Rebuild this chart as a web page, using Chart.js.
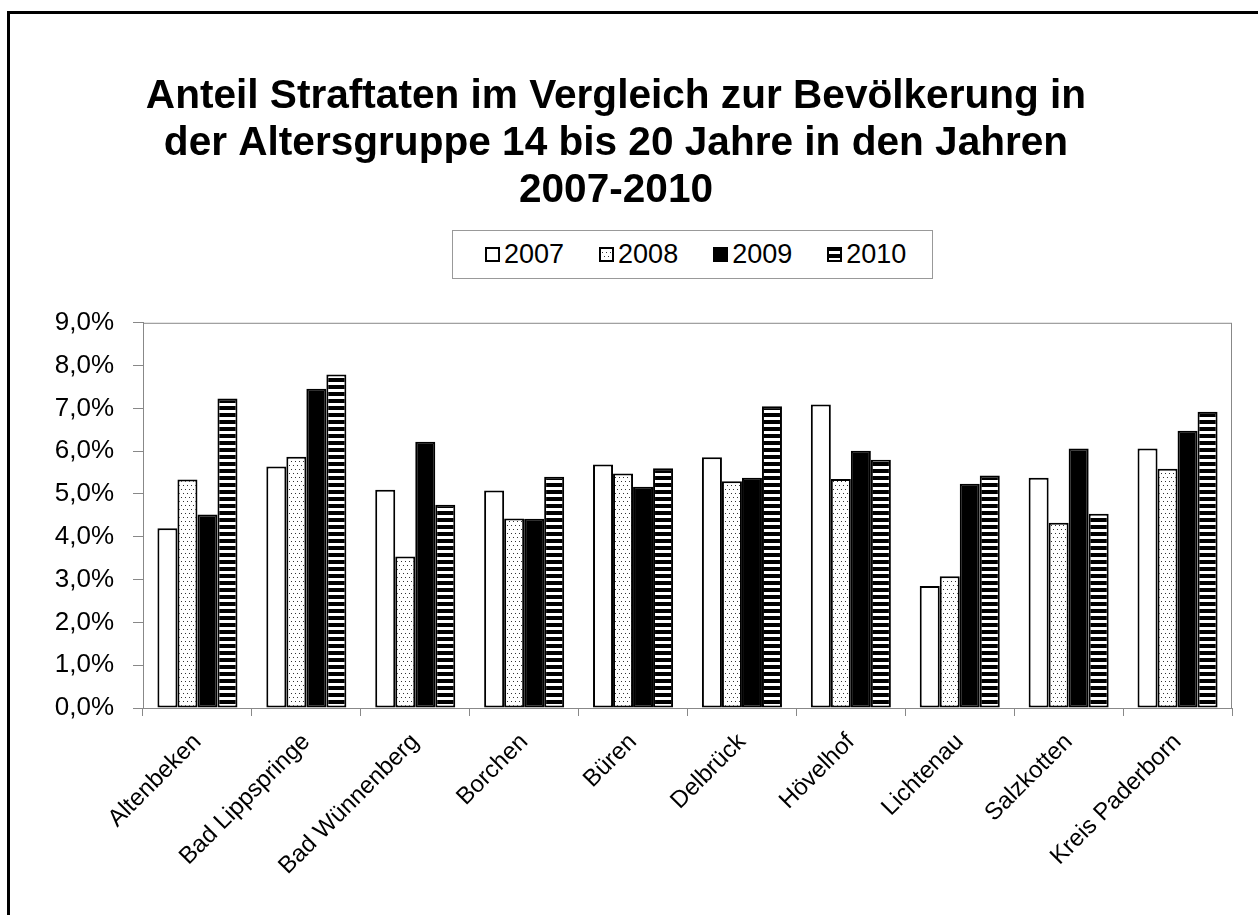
<!DOCTYPE html>
<html>
<head>
<meta charset="utf-8">
<script src="https://cdn.jsdelivr.net/npm/chart.js@4"></script>
<style>
  body { margin:0; background:#fff; width:1258px; height:915px; overflow:hidden; position:relative;
         font-family:"Liberation Sans", Arial, sans-serif; }
  #frame { position:absolute; left:7px; top:11px; width:1400px; height:1100px;
           border-left:3px solid #000; border-top:3px solid #000; }
  #wrap { position:absolute; left:0; top:0; width:1238px; height:915px; }
  #legend { position:absolute; left:452px; top:230px; width:481px; height:49px; box-sizing:border-box;
            border:1px solid #999; background:#fff; display:flex; align-items:center; padding-left:32px; }
  #legend .item { display:flex; align-items:center; margin-right:35px; font-size:27px; color:#000; }
  #legend canvas { margin-right:4px; }
</style>
</head>
<body>
<div id="frame"></div>
<div id="wrap"><canvas id="chart" width="1238" height="915"></canvas></div>
<div id="legend"></div>
<script>
const categories = ['Altenbeken', 'Bad Lippspringe', 'Bad Wünnenberg', 'Borchen', 'Büren',
                    'Delbrück', 'Hövelhof', 'Lichtenau', 'Salzkotten', 'Kreis Paderborn'];
const years = ['2007', '2008', '2009', '2010'];
const values2007 = [4.20, 5.64, 5.10, 5.08, 5.69, 5.86, 7.09, 2.85, 5.38, 6.06];
const values2008 = [5.34, 5.87, 3.54, 4.43, 5.48, 5.30, 5.35, 3.08, 4.33, 5.59];
const values2009 = [4.52, 7.46, 6.22, 4.42, 5.17, 5.38, 6.01, 5.24, 6.06, 6.48];
const values2010 = [7.23, 7.79, 4.75, 5.40, 5.60, 7.05, 5.80, 5.43, 4.54, 6.92];
const yMax = 9;

const FONT = '"Liberation Sans", Arial, sans-serif';

function dots() {
  const c = document.createElement('canvas');
  c.width = 8; c.height = 8;
  const x = c.getContext('2d');
  x.fillStyle = '#fff'; x.fillRect(0, 0, 8, 8);
  x.fillStyle = '#333';
  [[1, 1], [5, 1], [3, 5], [7, 5]].forEach(p => x.fillRect(p[0], p[1], 1, 1));
  return x.createPattern(c, 'repeat');
}
function stripes() {
  const c = document.createElement('canvas');
  c.width = 4; c.height = 7;
  const x = c.getContext('2d');
  x.fillStyle = '#fff'; x.fillRect(0, 0, 4, 7);
  x.fillStyle = '#000'; x.fillRect(0, 0, 4, 4);
  return x.createPattern(c, 'repeat');
}

const fills = ['#ffffff', dots(), '#000000', stripes()];
const series = [values2007, values2008, values2009, values2010];

const plotBorder = {
  id: 'plotBorder',
  beforeDatasetsDraw(chart) {
    const a = chart.chartArea, ctx = chart.ctx;
    ctx.save();
    ctx.strokeStyle = '#888';
    ctx.lineWidth = 1;
    ctx.strokeRect(a.left + 0.5, a.top + 0.5, a.right - a.left - 1, a.bottom - a.top);
    ctx.restore();
  }
};

const chart = new Chart(document.getElementById('chart'), {
  type: 'bar',
  data: {
    labels: categories,
    datasets: years.map((y, i) => ({
      label: y,
      data: series[i],
      backgroundColor: fills[i],
      borderColor: '#000',
      borderWidth: 2,
      borderSkipped: false,
      categoryPercentage: 0.735,
      barPercentage: 1
    }))
  },
  options: {
    responsive: false,
    animation: false,
    layout: { padding: { left: 0, right: 6, top: 0, bottom: 0 } },
    plugins: {
      legend: { display: false },
      tooltip: { enabled: false },
      title: {
        display: true,
        text: ['Anteil Straftaten im Vergleich zur Bevölkerung in',
               'der Altersgruppe 14 bis 20 Jahre in den Jahren',
               '2007-2010'],
        color: '#000',
        font: { family: FONT, size: 40.6, weight: 'bold', lineHeight: 1.16 },
        padding: { top: 73.5, bottom: 108 }
      }
    },
    scales: {
      x: {
        grid: { drawOnChartArea: false, tickLength: 8, color: '#888', offset: true },
        border: { color: '#888' },
        ticks: { color: '#000', font: { family: FONT, size: 24 }, maxRotation: 45, minRotation: 45, padding: 12 },
        afterFit(s) { s.height = 207; }
      },
      y: {
        min: 0, max: yMax,
        grid: { drawOnChartArea: false, tickLength: 10, color: '#888' },
        border: { color: '#888' },
        ticks: {
          stepSize: 1, color: '#000', padding: 19,
          font: { family: FONT, size: 26 },
          callback: v => v.toFixed(1).replace('.', ',') + '%'
        },
        afterFit(s) { s.width = 143; }
      }
    }
  },
  plugins: [plotBorder]
});

// legend as html, swatches filled with the same patterns
const legend = document.getElementById('legend');
chart.data.datasets.forEach(ds => {
  const item = document.createElement('div');
  item.className = 'item';
  const sw = document.createElement('canvas');
  sw.width = 15; sw.height = 15;
  const c = sw.getContext('2d');
  c.fillStyle = ds.backgroundColor;
  c.fillRect(0, 0, 15, 15);
  c.strokeStyle = '#000';
  c.lineWidth = 2;
  c.strokeRect(1, 1, 13, 13);
  const t = document.createElement('span');
  t.textContent = ds.label;
  item.appendChild(sw);
  item.appendChild(t);
  legend.appendChild(item);
});
</script>
</body>
</html>
